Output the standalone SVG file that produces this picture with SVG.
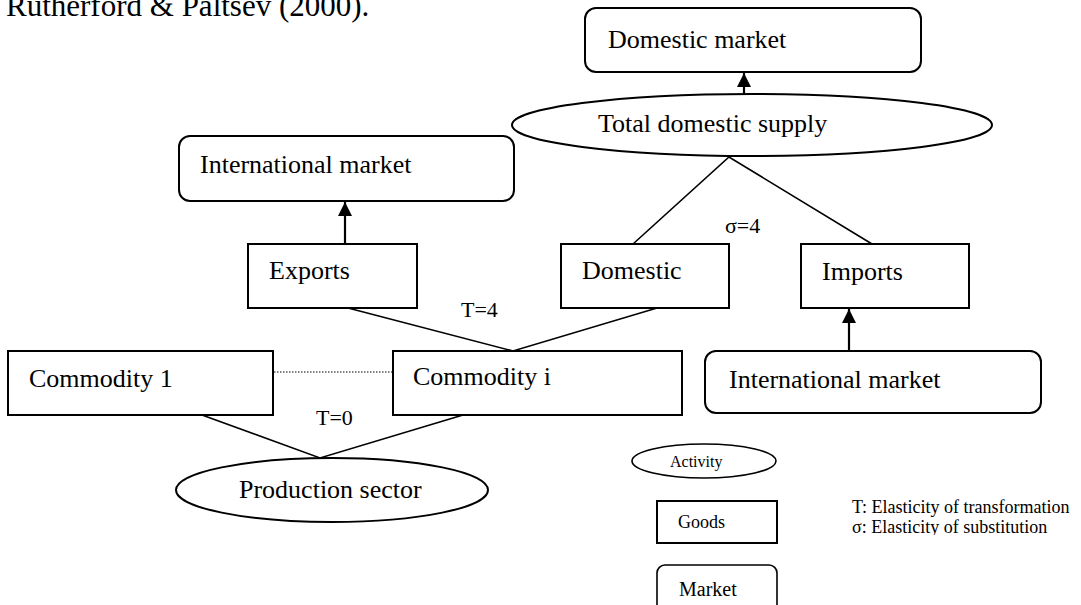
<svg xmlns="http://www.w3.org/2000/svg" width="1081" height="605" viewBox="0 0 1081 605" font-family="'Liberation Serif','Times New Roman',serif">
<style>
text{font-family:"Liberation Serif","Times New Roman",serif;fill:#000}
.n{fill:#fff;stroke:#000;stroke-width:2}
.c{stroke:#000;stroke-width:1.6;fill:none}
.a{stroke:#000;stroke-width:2.2;fill:none}
.t26{font-size:26px}
.t22{font-size:22px}
.t18{font-size:18px}
</style>
<defs>
<marker id="ah" markerUnits="userSpaceOnUse" markerWidth="14" markerHeight="16" refX="14" refY="7" orient="auto" viewBox="0 0 14 14">
<path d="M0,0 L14,7 L0,14 Z" fill="#000"/>
</marker>
<clipPath id="clipAct"><rect x="600" y="440" width="200" height="35"/></clipPath>
<clipPath id="clipLeg"><rect x="840" y="490" width="241" height="45"/></clipPath>
</defs>
<rect width="1081" height="605" fill="#fff"/>
<text x="6" y="16" style="font-size:31px">Rutherford &amp; Paltsev (2000).</text>

<g id="connectors">
<line class="a" x1="744" y1="94" x2="744" y2="73" marker-end="url(#ah)"/>
<line class="a" x1="345" y1="244" x2="345" y2="202" marker-end="url(#ah)"/>
<line class="a" x1="849" y1="351" x2="849" y2="309" marker-end="url(#ah)"/>
<polyline class="c" points="633,244 729,157 872,244"/>
<polyline class="c" points="348,308 513,351 657,308"/>
<polyline class="c" points="202,415 320,458 463,415"/>
<line x1="274" y1="372" x2="393" y2="372" stroke="#000" stroke-width="1.2" stroke-dasharray="1.5,1.5"/>
</g>

<g id="domestic-market"><rect class="n" x="585" y="8" width="336" height="64" rx="11"/><text class="t26" x="608" y="48">Domestic market</text></g>
<g id="total-domestic-supply"><ellipse class="n" cx="752" cy="125" rx="240" ry="31"/><text class="t26" x="598" y="132">Total domestic supply</text></g>
<g id="international-market-left"><rect class="n" x="179" y="136" width="335" height="65" rx="11"/><text class="t26" x="200" y="173">International market</text></g>
<g id="exports"><rect class="n" x="248" y="244" width="169" height="64"/><text class="t26" x="269" y="279">Exports</text></g>
<g id="domestic"><rect class="n" x="561" y="244" width="168" height="64"/><text class="t26" x="582" y="279">Domestic</text></g>
<g id="imports"><rect class="n" x="801" y="244" width="168" height="64"/><text class="t26" x="822" y="280">Imports</text></g>
<g id="commodity-1"><rect class="n" x="8" y="351" width="265" height="64"/><text class="t26" x="29" y="387">Commodity 1</text></g>
<g id="commodity-i"><rect class="n" x="393" y="351" width="289" height="64"/><text class="t26" x="413" y="385">Commodity i</text></g>
<g id="international-market-right"><rect class="n" x="705" y="351" width="336" height="62" rx="11"/><text class="t26" x="729" y="388">International market</text></g>
<g id="production-sector"><ellipse class="n" cx="332" cy="490" rx="156" ry="32"/><text class="t26" x="239" y="498">Production sector</text></g>

<text class="t22" x="461" y="317">T=4</text>
<text class="t22" x="725" y="233">σ=4</text>
<text class="t22" x="316" y="425">T=0</text>

<g id="legend">
<g id="legend-activity"><ellipse class="n" cx="704" cy="461" rx="72" ry="17" style="stroke-width:1.6"/><text x="670" y="467" style="font-size:16px" clip-path="url(#clipAct)">Activity</text></g>
<g id="legend-goods"><rect class="n" x="657" y="501" width="120" height="42"/><text x="678" y="528" style="font-size:18px">Goods</text></g>
<g id="legend-market"><rect class="n" x="657" y="565" width="120" height="50" rx="8" style="stroke-width:1.6"/><text x="679" y="596" style="font-size:20px">Market</text></g>
<g clip-path="url(#clipLeg)">
<text class="t18" x="852" y="513">T: Elasticity of transformation</text>
<text class="t18" x="852" y="533">σ: Elasticity of substitution</text>
</g>
</g>
</svg>
